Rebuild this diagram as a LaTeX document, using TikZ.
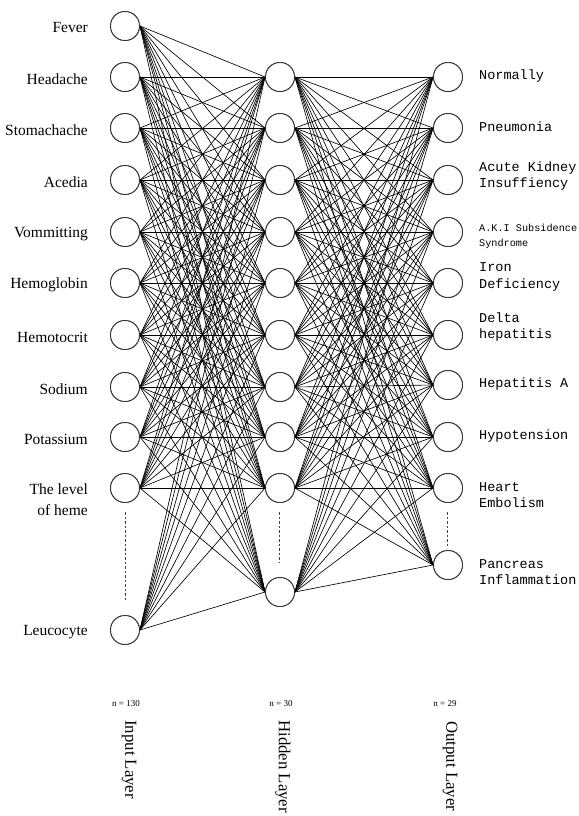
\documentclass[tikz,border=0pt]{standalone}
\usepackage{fontspec}
\setmainfont{Liberation Serif}
\newfontfamily\monofont{Liberation Mono}
\begin{document}
\begin{tikzpicture}[x=1pt,y=-1pt,
  neuron/.style={circle,draw=black!80,line width=0.9pt,fill=white,minimum size=29pt,inner sep=0pt},
  link/.style={line width=0.65pt,black},
  inlabel/.style={anchor=east,font=\fontsize{15.5}{21}\selectfont,align=right,inner sep=0pt},
  outlabel/.style={anchor=west,font=\monofont\fontsize{13.5}{16.5}\selectfont,align=left,inner sep=0pt},
  smalllabel/.style={anchor=west,font=\monofont\fontsize{10.2}{15}\selectfont,align=left,inner sep=0pt},
  gap/.style={draw=black!75,line width=1pt,dash pattern=on 2.5pt off 2pt},
  count/.style={font=\fontsize{9}{10}\selectfont,inner sep=0pt},
  layername/.style={rotate=-90,anchor=west,font=\fontsize{16.8}{20}\selectfont,inner sep=0pt}
]
\useasboundingbox (0,0) rectangle (578,816);

% input layer
\foreach \n/\y in {1/26,2/77,3/128,4/180,5/232,6/283,7/335,8/387,9/437,10/488,11/630}
  \node[neuron] (in\n) at (125,\y) {};
% hidden layer
\foreach \n/\y in {1/77,2/128,3/180,4/232,5/283,6/335,7/387,8/437,9/488,10/592}
  \node[neuron] (hid\n) at (280,\y) {};
% output layer
\foreach \n/\y in {1/77,2/128,3/180,4/232,5/283,6/335,7/385,8/437,9/488,10/565}
  \node[neuron] (out\n) at (448,\y) {};

% full connections
\foreach \i in {1,...,11}
  \foreach \j in {1,...,10}
    \draw[link] (in\i.east) -- (hid\j.west);
\foreach \i in {1,...,10}
  \foreach \j in {1,...,10}
    \draw[link] (hid\i.east) -- (out\j.west);

% redraw neurons above the links
\foreach \n in {1,...,11} \draw[black!80,line width=0.9pt,fill=white] (in\n) circle (14.5);
\foreach \n in {1,...,10} \draw[black!80,line width=0.9pt,fill=white] (hid\n) circle (14.5);
\foreach \n in {1,...,10} \draw[black!80,line width=0.9pt,fill=white] (out\n) circle (14.5);

% omitted neurons
\coordinate (ga1) at (125,512); \coordinate (gb1) at (125,600);
\coordinate (ga2) at (279,512); \coordinate (gb2) at (279,562);
\coordinate (ga3) at (447,512); \coordinate (gb3) at (447,547);
\draw[gap] (ga1) -- (gb1);
\draw[gap] (ga2) -- (gb2);
\draw[gap] (ga3) -- (gb3);

% input labels
\node[inlabel] (l1) at (88,28) {Fever};
\node[inlabel] (l2) at (88,79) {Headache};
\node[inlabel] (l3) at (88,130) {Stomachache};
\node[inlabel] (l4) at (88,182) {Acedia};
\node[inlabel] (l5) at (88,234) {Vommitting};
\node[inlabel] (l6) at (88,285) {Hemoglobin};
\node[inlabel] (l7) at (88,337) {Hemotocrit};
\node[inlabel] (l8) at (88,389) {Sodium};
\node[inlabel] (l9) at (88,439) {Potassium};
\node[inlabel] (l10) at (88,500) {The level\\of heme};
\node[inlabel] (l11) at (88,632) {Leucocyte};

% output labels
\node[outlabel] (o1) at (479,76) {Normally};
\node[outlabel] (o2) at (479,127) {Pneumonia};
\node[outlabel] (o3) at (479,176) {Acute Kidney\\Insuffiency};
\node[smalllabel] (o4) at (479,236) {A.K.I Subsidence\\Syndrome};
\node[outlabel] (o5) at (479,277) {Iron\\Deficiency};
\node[outlabel] (o6) at (479,327) {Delta\\hepatitis};
\node[outlabel] (o7) at (479,384) {Hepatitis A};
\node[outlabel] (o8) at (479,436) {Hypotension};
\node[outlabel] (o9) at (479,495) {Heart\\Embolism};
\node[outlabel] (o10) at (479,572) {Pancreas\\Inflammation};

% layer captions
\node[count] (c1) at (126,704) {n = 130};
\node[count] (c2) at (281,704) {n = 30};
\node[count] (c3) at (445,704) {n = 29};
\node[layername] (t1) at (129,720) {Input Layer};
\node[layername] (t2) at (283,720) {Hidden Layer};
\node[layername] (t3) at (450,721) {Output Layer};
\end{tikzpicture}
\end{document}
